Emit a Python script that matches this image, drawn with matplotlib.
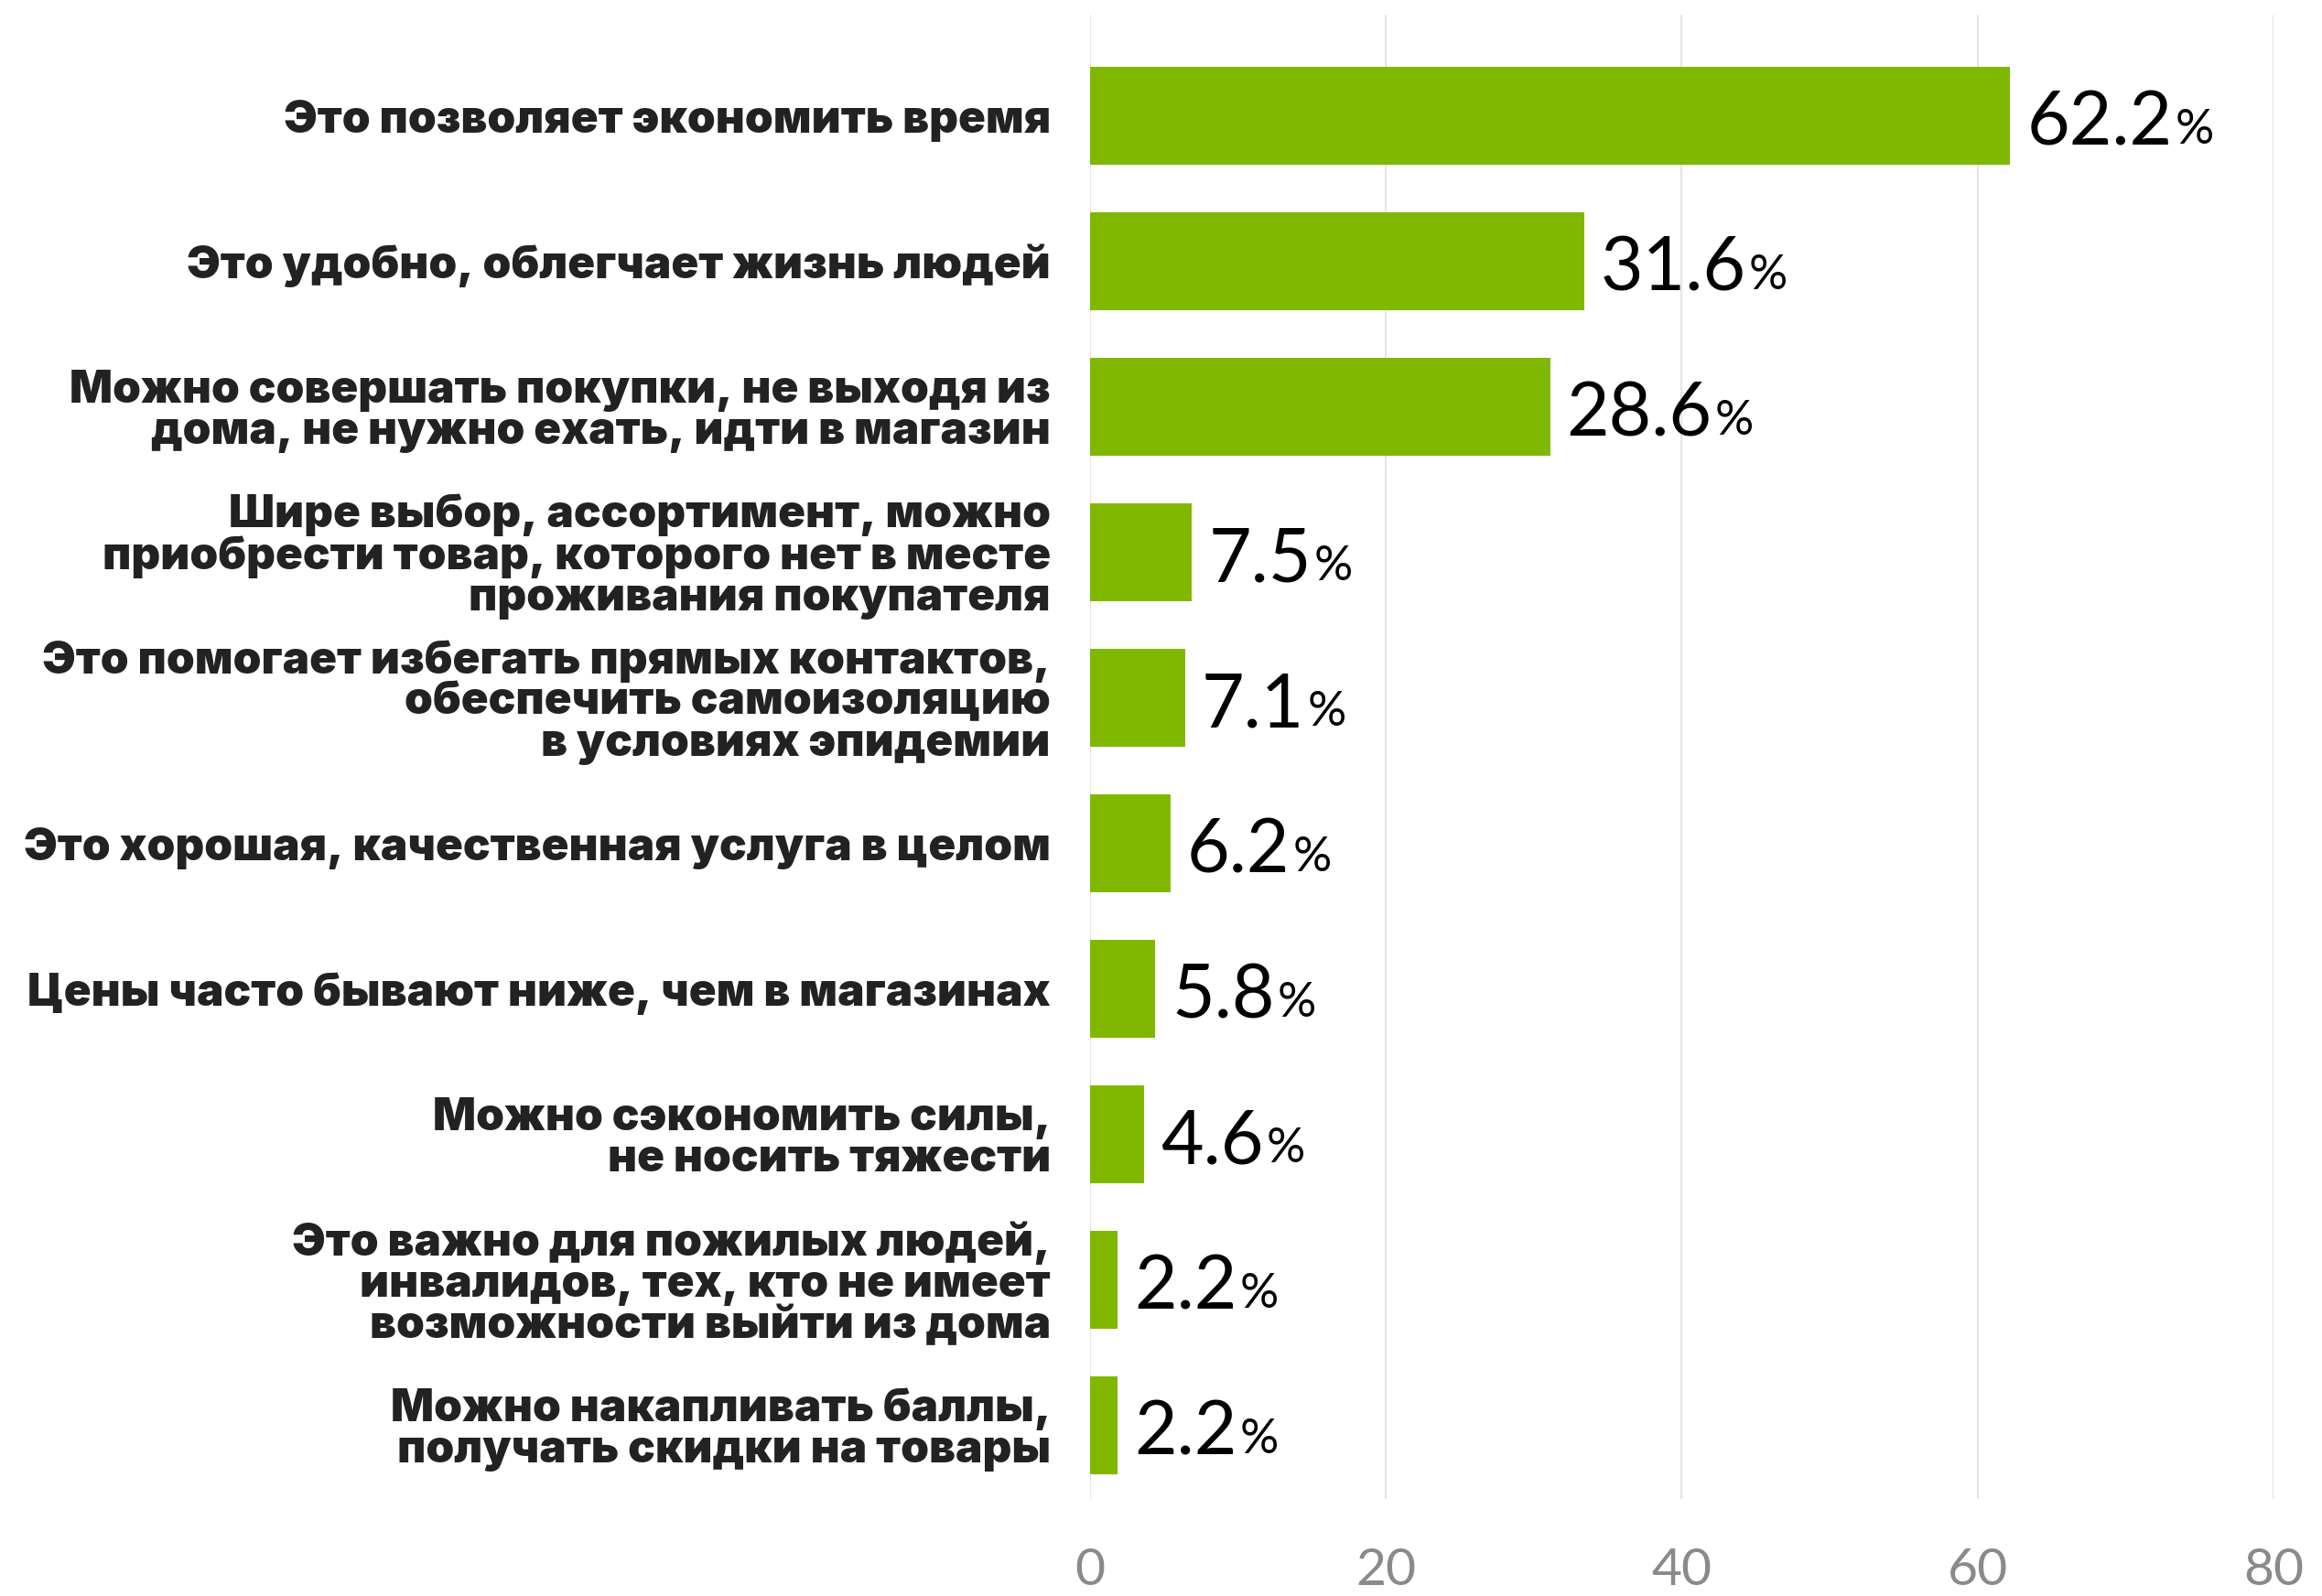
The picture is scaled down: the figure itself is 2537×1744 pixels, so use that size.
import matplotlib
matplotlib.use("Agg")
import matplotlib.pyplot as plt
import numpy as np

# answers, top to bottom
categories = [
    "Это позволяет экономить время",
    "Это удобно, облегчает жизнь людей",
    "Можно совершать покупки, не выходя из\nдома, не нужно ехать, идти в магазин",
    "Шире выбор, ассортимент, можно\nприобрести товар, которого нет в месте\nпроживания покупателя",
    "Это помогает избегать прямых контактов,\nобеспечить самоизоляцию\nв условиях эпидемии",
    "Это хорошая, качественная услуга в целом",
    "Цены часто бывают ниже, чем в магазинах",
    "Можно сэкономить силы,\nне носить тяжести",
    "Это важно для пожилых людей,\nинвалидов, тех, кто не имеет\nвозможности выйти из дома",
    "Можно накапливать баллы,\nполучать скидки на товары",
]
# printed values
values = [62.2, 31.6, 28.6, 7.5, 7.1, 6.2, 5.8, 4.6, 2.2, 2.2]
# bar lengths as drawn in the picture
bar_len = [62.2, 33.4, 31.1, 6.9, 6.45, 5.45, 4.4, 3.65, 1.85, 1.85]
xticks = [0, 20, 40, 60, 80]

green = "#80b800"

fig = plt.figure(figsize=(25.37, 17.44), dpi=100)
ax = fig.add_axes([0.4694, 0.0608, 0.5097, 0.930])

y = np.arange(len(categories))
ax.barh(y, bar_len, height=0.673, color=green, zorder=2)

ax.set_xlim(0, 80)
ax.set_ylim(9.503, -0.695)
ax.set_xticks(xticks)
ax.set_xticklabels([str(t) for t in xticks], fontsize=41, color="#8a8a8a",
                   family="Lato", fontweight="normal")
ax.tick_params(axis="x", length=0, pad=38)
ax.set_yticks(y)
ax.set_yticklabels(categories, fontsize=35.5, color="#222222",
                   family="Inter", fontweight="black", linespacing=0.97)
ax.tick_params(axis="y", length=0, pad=31)
ax.grid(axis="x", color="#e6e6e6", linewidth=1.6, zorder=0)
for s in ax.spines.values():
    s.set_visible(False)

for yi, bl, v in zip(y, bar_len, values):
    t = ax.annotate(f"{v:.1f}", xy=(bl, yi), xytext=(18, -32),
                    textcoords="offset pixels", fontsize=58, family="Lato",
                    va="baseline", ha="left", color="black")
    ax.annotate("%", xy=(1, 0), xycoords=t, xytext=(3, 7),
                textcoords="offset pixels", fontsize=38, family="Lato",
                va="bottom", ha="left", color="black")

fig.savefig("out.png", dpi=100)
